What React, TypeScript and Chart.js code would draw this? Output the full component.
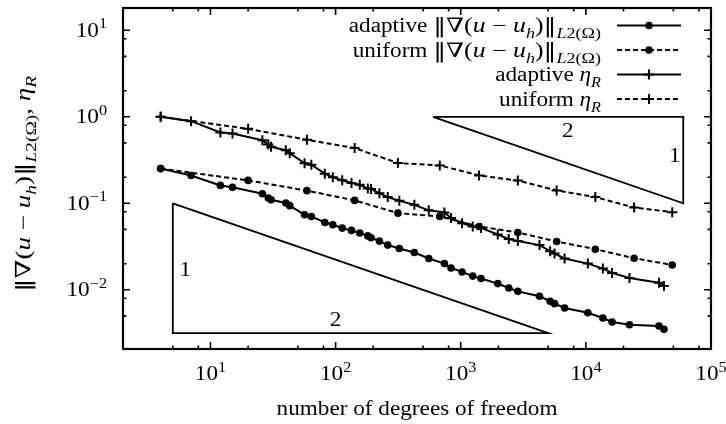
import React, { useEffect, useRef } from "react";
import { Chart, registerables } from "chart.js";

Chart.register(...registerables);

// ---------- data ----------
const adaptiveDofs = [4, 7, 12, 15, 26, 29, 30.5, 40, 43, 56.5, 64, 82, 95, 113, 134, 156, 181, 192, 224, 261, 323, 426, 555, 741, 836, 1024, 1247, 1453, 1977, 2420, 2860, 4260, 5180, 5620, 6760, 10370, 13680, 16200, 22300, 38400, 42100];
const adaptiveGrad = [0.252, 0.21, 0.161, 0.153, 0.129, 0.115, 0.11, 0.1007, 0.094, 0.0738, 0.0705, 0.06, 0.0565, 0.0517, 0.0486, 0.0453, 0.042, 0.04, 0.0366, 0.0329, 0.03, 0.027, 0.023, 0.0201, 0.0179, 0.0161, 0.0144, 0.0135, 0.0118, 0.0105, 0.0096, 0.00843, 0.00738, 0.00692, 0.00617, 0.00544, 0.00472, 0.00425, 0.00395, 0.00382, 0.00349];
const adaptiveEta = [1.0, 0.89, 0.66, 0.64, 0.535, 0.48, 0.45, 0.41, 0.38, 0.29, 0.28, 0.22, 0.2, 0.185, 0.172, 0.164, 0.148, 0.146, 0.131, 0.118, 0.107, 0.096, 0.083, 0.0785, 0.0676, 0.059, 0.054, 0.052, 0.0436, 0.0386, 0.0366, 0.0329, 0.028, 0.0263, 0.023, 0.0201, 0.0176, 0.0157, 0.0137, 0.0121, 0.0111];

const uniformDofs = [4, 20, 59, 142, 315, 680, 1400, 2860, 5840, 11900, 24300, 49000];
const uniformGrad = [0.252, 0.184, 0.14, 0.108, 0.077, 0.0705, 0.054, 0.046, 0.0362, 0.0295, 0.0232, 0.0194];
const uniformEta = [1.0, 0.726, 0.542, 0.435, 0.292, 0.274, 0.21, 0.183, 0.141, 0.118, 0.0894, 0.079];

// slope triangles
const lowerTriX = [5, 5, 5000, 5];
const lowerTriY = [0.1, 0.00316, 0.00316, 0.1];
const upperTriX = [600, 60000, 60000, 600];
const upperTriY = [1.0, 1.0, 0.1, 1.0];
// triangle labels: [x, y, text]
const triLabels: [number, number, string][] = [
  [6.3, 0.0173, "1"],
  [100, 0.00455, "2"],
  [7180, 0.687, "2"],
  [51300, 0.361, "1"],
];

const xTickExps = [1, 2, 3, 4, 5];
const yTickExps = [-2, -1, 0, 1];
const minorFactors = [2, 5, 8];

const X_MIN = 2;
const X_MAX = 1e5;
const Y_MIN = 0.00207;
const Y_MAX = 18.1;

// ---------- text helpers ----------
const SERIF = '"Liberation Serif", "DejaVu Serif", serif';
const SYM = '"DejaVu Serif", "Liberation Serif", serif';
const FS = 20;
const SX = 1.16;
const SXM = 1.29;

type Seg = { t: string; it?: boolean; sub?: boolean; sup?: boolean; m?: boolean; sym?: boolean };

function fontFor(s: Seg, size: number) {
  const sz = s.sub || s.sup ? Math.round(size * 0.72) : size;
  return `${s.it ? "italic " : ""}${sz}px ${s.sym ? SYM : SERIF}`;
}

function drawRich(
  ctx: CanvasRenderingContext2D,
  segs: Seg[],
  x: number,
  y: number,
  align: "left" | "right" | "center",
  size = FS
) {
  ctx.textBaseline = "alphabetic";
  ctx.textAlign = "left";
  const scales = segs.map((s) => (s.m ? SXM : SX));
  const widths = segs.map((s, i) => {
    ctx.font = fontFor(s, size);
    return ctx.measureText(s.t).width * scales[i];
  });
  const total = widths.reduce((a, b) => a + b, 0);
  let cx = x;
  if (align === "right") cx = x - total;
  else if (align === "center") cx = x - total / 2;
  segs.forEach((s, i) => {
    ctx.save();
    ctx.font = fontFor(s, size);
    const dy = s.sub ? size * 0.3 : s.sup ? -size * 0.42 : 0;
    ctx.translate(cx, y + dy);
    ctx.scale(scales[i], 1);
    ctx.fillText(s.t, 0, 0);
    ctx.restore();
    cx += widths[i];
  });
}

const mathGrad: Seg[] = [
  { t: "‖∇", m: true, sym: true },
  { t: "(", m: true },
  { t: "u", it: true, m: true },
  { t: " − ", m: true },
  { t: "u", it: true, m: true },
  { t: "h", it: true, sub: true, m: true },
  { t: ")", m: true },
  { t: "‖", m: true, sym: true },
  { t: "L", it: true, sub: true, m: true },
  { t: "2(Ω)", sub: true, m: true },
];
const gradSegs = (prefix: string): Seg[] => [{ t: prefix + " " }, ...mathGrad];
const etaSegs = (prefix: string): Seg[] => [
  { t: prefix + " " },
  { t: "η", it: true },
  { t: "R", it: true, sub: true },
];

const legendItems = [
  { segs: gradSegs("adaptive"), dash: false, marker: "circle" },
  { segs: gradSegs("uniform"), dash: true, marker: "circle" },
  { segs: etaSegs("adaptive"), dash: false, marker: "cross" },
  { segs: etaSegs("uniform"), dash: true, marker: "cross" },
];

function drawMarker(ctx: CanvasRenderingContext2D, kind: string, x: number, y: number) {
  ctx.save();
  ctx.setLineDash([]);
  if (kind === "circle") {
    ctx.beginPath();
    ctx.arc(x, y, 3.8, 0, Math.PI * 2);
    ctx.fill();
  } else {
    ctx.lineWidth = 2;
    ctx.beginPath();
    ctx.moveTo(x - 5, y);
    ctx.lineTo(x + 5, y);
    ctx.moveTo(x, y - 5);
    ctx.lineTo(x, y + 5);
    ctx.stroke();
  }
  ctx.restore();
}

const gnuplotPlugin = {
  id: "gnuplotDecor",
  afterDraw(chart: any) {
    const ctx: CanvasRenderingContext2D = chart.ctx;
    const { left, right, top, bottom } = chart.chartArea;
    const xs = chart.scales.x;
    const ys = chart.scales.y;
    ctx.save();
    ctx.fillStyle = "#000";
    ctx.strokeStyle = "#000";

    // ticks (inside, mirrored)
    ctx.lineWidth = 1.6;
    ctx.beginPath();
    for (let e = 0; e <= 5; e++) {
      const major = Math.pow(10, e);
      if (major > X_MIN && major < X_MAX) {
        const px = xs.getPixelForValue(major);
        ctx.moveTo(px, bottom); ctx.lineTo(px, bottom - 7);
        ctx.moveTo(px, top); ctx.lineTo(px, top + 7);
      }
      minorFactors.forEach((m) => {
        const v = m * major;
        if (v > X_MIN * 1.01 && v < X_MAX * 0.99) {
          const px = xs.getPixelForValue(v);
          ctx.moveTo(px, bottom); ctx.lineTo(px, bottom - 3.5);
          ctx.moveTo(px, top); ctx.lineTo(px, top + 3.5);
        }
      });
    }
    for (let e = -3; e <= 1; e++) {
      const major = Math.pow(10, e);
      if (major > Y_MIN && major < Y_MAX) {
        const py = ys.getPixelForValue(major);
        ctx.moveTo(left, py); ctx.lineTo(left + 7, py);
        ctx.moveTo(right, py); ctx.lineTo(right - 7, py);
      }
      minorFactors.forEach((m) => {
        const v = m * major;
        if (v > Y_MIN && v < Y_MAX) {
          const py = ys.getPixelForValue(v);
          ctx.moveTo(left, py); ctx.lineTo(left + 3.5, py);
          ctx.moveTo(right, py); ctx.lineTo(right - 3.5, py);
        }
      });
    }
    ctx.stroke();

    // border
    ctx.lineWidth = 2.2;
    ctx.strokeRect(left, top, right - left, bottom - top);

    // tick labels
    xTickExps.forEach((e) => {
      const px = xs.getPixelForValue(Math.pow(10, e));
      drawRich(ctx, [{ t: "10" }, { t: String(e), sup: true }], px, bottom + 31, "center");
    });
    yTickExps.forEach((e) => {
      const py = ys.getPixelForValue(Math.pow(10, e));
      const ex = e < 0 ? "−" + String(-e) : String(e);
      drawRich(ctx, [{ t: "10" }, { t: ex, sup: true }], left - 16, py + 6.5, "right");
    });

    // axis titles
    drawRich(ctx, [{ t: "number of degrees of freedom" }], (left + right) / 2, bottom + 66, "center");
    ctx.save();
    ctx.translate(30, 184);
    ctx.rotate(-Math.PI / 2);
    const ySegs: Seg[] = [
      ...mathGrad,
      { t: ", ", m: true },
      { t: "η", it: true, m: true },
      { t: "R", it: true, sub: true, m: true },
    ];
    drawRich(ctx, ySegs, 0, 0, "center", 21);
    ctx.restore();

    // triangle labels
    triLabels.forEach(([vx, vy, t]) => {
      const px = xs.getPixelForValue(vx);
      const py = ys.getPixelForValue(vy);
      drawRich(ctx, [{ t }], px, py + 6.5, "center");
    });

    // legend
    const rowYs = [25.5, 50, 74.5, 99];
    legendItems.forEach((it, i) => {
      const ry = rowYs[i];
      drawRich(ctx, it.segs, 601, ry + 6.5, "right");
      ctx.save();
      ctx.lineWidth = 2;
      ctx.setLineDash(it.dash ? [5, 3] : []);
      ctx.beginPath();
      ctx.moveTo(617, ry);
      ctx.lineTo(681, ry);
      ctx.stroke();
      ctx.restore();
      drawMarker(ctx, it.marker, 649, ry);
    });

    ctx.restore();
  },
};

function pts(xs: number[], ys: number[]) {
  return xs.map((x, i) => ({ x, y: ys[i] }));
}

export default function App() {
  const ref = useRef<HTMLCanvasElement | null>(null);
  useEffect(() => {
    if (!ref.current) return;
    const common = { borderColor: "#000", backgroundColor: "#000", borderWidth: 2, showLine: true, fill: false };
    const chart = new Chart(ref.current, {
      type: "scatter",
      data: {
        datasets: [
          { ...common, label: "adaptive grad", data: pts(adaptiveDofs, adaptiveGrad), pointStyle: "circle", pointRadius: 3.8, pointBorderWidth: 0, pointBackgroundColor: "#000" },
          { ...common, label: "uniform grad", data: pts(uniformDofs, uniformGrad), borderDash: [5, 3], pointStyle: "circle", pointRadius: 3.8, pointBorderWidth: 0, pointBackgroundColor: "#000" },
          { ...common, label: "adaptive eta", data: pts(adaptiveDofs, adaptiveEta), pointStyle: "cross", pointRadius: 5, pointBorderWidth: 2, pointBorderColor: "#000" },
          { ...common, label: "uniform eta", data: pts(uniformDofs, uniformEta), borderDash: [5, 3], pointStyle: "cross", pointRadius: 5, pointBorderWidth: 2, pointBorderColor: "#000" },
          { ...common, label: "tri1", data: pts(lowerTriX, lowerTriY), pointRadius: 0, borderWidth: 1.8 },
          { ...common, label: "tri2", data: pts(upperTriX, upperTriY), pointRadius: 0, borderWidth: 1.8 },
        ],
      },
      options: {
        responsive: false,
        devicePixelRatio: 1,
        animation: false,
        layout: { padding: { left: 123, right: 15, top: 8, bottom: 75 } },
        plugins: { legend: { display: false }, tooltip: { enabled: false }, title: { display: false } },
        elements: { line: { tension: 0 } },
        scales: {
          x: { type: "logarithmic", min: X_MIN, max: X_MAX, display: false },
          y: { type: "logarithmic", min: Y_MIN, max: Y_MAX, display: false },
        },
      },
      plugins: [gnuplotPlugin],
    } as any);
    return () => chart.destroy();
  }, []);
  return (
    <div style={{ position: "fixed", left: 0, top: 0, width: 726, height: 424, background: "#fff" }}>
      <canvas ref={ref} width={726} height={424} style={{ display: "block" }} />
    </div>
  );
}
